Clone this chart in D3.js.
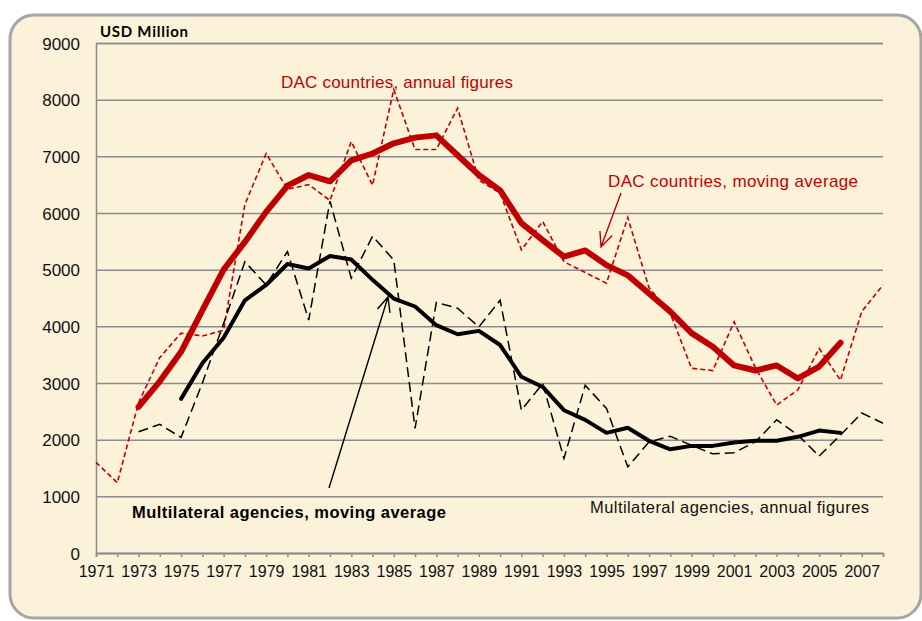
<!DOCTYPE html>
<html>
<head>
<meta charset="utf-8">
<script src="https://cdn.jsdelivr.net/npm/d3@7"></script>
<style>
  body { margin: 0; background: #fff; }
  svg { display: block; }
  text { font-family: "Liberation Sans", Arial, sans-serif; }
</style>
</head>
<body>
<svg width="922" height="621"></svg>
<script>
// years 1971..2008
let years = d3.range(1971, 2009);
let yTicks = [0, 1000, 2000, 3000, 4000, 5000, 6000, 7000, 8000, 9000];
let xLabels = d3.range(1971, 2008, 2);

let dacAnnual = [1600, 1240, 2650, 3450, 3880, 3830, 3930, 6150, 7050, 6420,
    6500, 6220, 7260, 6490, 8180, 7120, 7120, 7850, 6580, 6350,
    5350, 5850, 5140, 4950, 4760, 5920, 4680, 4230, 3260, 3220,
    4080, 3270, 2610, 2880, 3610, 3050, 4260, 4730];
let dacMovingAvg = [null, null, 2580, 3030, 3550, 4280, 5000, 5490, 6020, 6480,
    6670, 6560, 6930, 7050, 7230, 7330, 7370, 7020, 6670, 6400,
    5820, 5520, 5230, 5340, 5080, 4900, 4580, 4260, 3880, 3640,
    3310, 3220, 3310, 3080, 3290, 3710, null, null];
let multiAnnual = [null, null, 2140, 2270, 2040, 3000, 4050, 5140, 4730, 5320,
    4110, 6210, 4850, 5590, 5170, 2200, 4420, 4320, 3990, 4460,
    2520, 2990, 1670, 2960, 2550, 1520, 1960, 2060, 1900, 1750,
    1770, 1960, 2350, 2080, 1710, 2080, 2470, 2290];
let multiMovingAvg = [null, null, null, null, 2720, 3350, 3800, 4460, 4730, 5100,
    5020, 5240, 5180, 4820, 4490, 4350, 4020, 3860, 3920, 3670,
    3110, 2930, 2520, 2350, 2120, 2210, 1980, 1830, 1890, 1890,
    1950, 1980, 1980, 2050, 2160, 2120, null, null];

const red = '#c00000';
let svg = d3.select('svg');

// panel
svg.append('rect')
    .attr('x', 10).attr('y', 15).attr('width', 911).attr('height', 603)
    .attr('rx', 24).attr('ry', 24)
    .attr('fill', '#fcf2da').attr('stroke', '#a6a6a6').attr('stroke-width', 3);

let xScale = d3.scaleLinear().domain([1971, 2008]).range([96, 883]);
let yScale = d3.scaleLinear().domain([0, 9000]).range([553, 43]);

// gridlines
let yAxis = d3.axisLeft(yScale).tickValues(yTicks).tickSize(-(883 - 96)).tickFormat(d => d);
let yAxisG = svg.append('g').attr('transform', 'translate(96,0)').call(yAxis);
yAxisG.select('.domain').attr('stroke', '#8c8c8c').attr('stroke-width', 1.5);
yAxisG.selectAll('.tick line').attr('stroke', '#8c8c8c').attr('stroke-width', 1.5);
yAxisG.selectAll('.tick text')
    .attr('x', -16).attr('dy', '0.36em')
    .attr('font-size', 17).attr('fill', '#111')
    .style('font-family', '"Liberation Sans", Arial, sans-serif');

let xAxis = d3.axisBottom(xScale).tickValues(years).tickSize(4)
    .tickFormat(d => xLabels.includes(d) ? d : '');
let xAxisG = svg.append('g').attr('transform', 'translate(0,553)').call(xAxis);
xAxisG.select('.domain').attr('stroke', '#8c8c8c').attr('stroke-width', 1.5);
xAxisG.selectAll('.tick line').attr('stroke', '#8c8c8c').attr('stroke-width', 1.5);
xAxisG.selectAll('.tick text')
    .attr('y', 13).attr('dy', '0.71em')
    .attr('font-size', 16).attr('fill', '#111')
    .style('font-family', '"Liberation Sans", Arial, sans-serif');

let line = d3.line()
    .defined(d => d[1] != null)
    .x(d => xScale(d[0]))
    .y(d => yScale(d[1]));

function pairs(vals) { return years.map((y, i) => [y, vals[i]]); }

svg.append('path').datum(pairs(dacAnnual)).attr('d', line)
    .attr('fill', 'none').attr('stroke', red).attr('stroke-width', 1.6)
    .attr('stroke-dasharray', '5,3');
svg.append('path').datum(pairs(dacMovingAvg)).attr('d', line)
    .attr('fill', 'none').attr('stroke', red).attr('stroke-width', 6)
    .attr('stroke-linejoin', 'round').attr('stroke-linecap', 'round');
svg.append('path').datum(pairs(multiAnnual)).attr('d', line)
    .attr('fill', 'none').attr('stroke', '#000').attr('stroke-width', 1.5)
    .attr('stroke-dasharray', '10,5');
svg.append('path').datum(pairs(multiMovingAvg)).attr('d', line)
    .attr('fill', 'none').attr('stroke', '#000').attr('stroke-width', 4)
    .attr('stroke-linejoin', 'round').attr('stroke-linecap', 'round');

// arrows
function arrow(x1, y1, x2, y2, color) {
    let a = Math.atan2(y2 - y1, x2 - x1);
    let len = 16, spread = 0.42;
    let p = d3.path();
    p.moveTo(x1, y1); p.lineTo(x2, y2);
    p.moveTo(x2 - len * Math.cos(a - spread), y2 - len * Math.sin(a - spread));
    p.lineTo(x2, y2);
    p.lineTo(x2 - len * Math.cos(a + spread), y2 - len * Math.sin(a + spread));
    svg.append('path').attr('d', p.toString())
        .attr('fill', 'none').attr('stroke', color).attr('stroke-width', 1.4);
}
arrow(621, 193, 601, 247, red);
arrow(329, 488, 388, 297, '#000');

// labels
svg.append('text').attr('x', 100).attr('y', 37)
    .text('USD Million')
    .style('font-family', 'Lato, "Open Sans", sans-serif')
    .attr('font-weight', 'bold').attr('font-size', 15).attr('textLength', 88);
svg.append('text').attr('x', 281).attr('y', 88)
    .text('DAC countries, annual figures')
    .attr('fill', red).attr('font-size', 17).attr('textLength', 232);
svg.append('text').attr('x', 608).attr('y', 187)
    .text('DAC countries, moving average')
    .attr('fill', red).attr('font-size', 17).attr('textLength', 250);
svg.append('text').attr('x', 132).attr('y', 518)
    .text('Multilateral agencies, moving average')
    .attr('fill', '#000').attr('font-weight', 'bold').attr('font-size', 16.5).attr('textLength', 314);
svg.append('text').attr('x', 590).attr('y', 513)
    .text('Multilateral agencies, annual figures')
    .attr('fill', '#111').attr('font-size', 16.5).attr('textLength', 279);
</script>
</body>
</html>
